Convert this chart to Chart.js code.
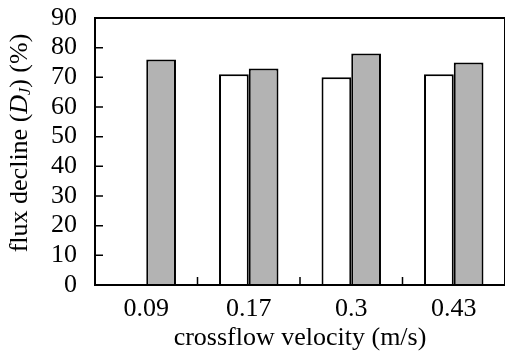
<!DOCTYPE html>
<html>
<head>
<meta charset="utf-8">
<script src="https://cdn.jsdelivr.net/npm/chart.js@4.4.0/dist/chart.umd.min.js"></script>
<style>
  body { margin: 0; background: #fff; overflow: hidden; }
  canvas { display: block; }
</style>
</head>
<body>
<canvas id="fluxChart" width="505" height="354"></canvas>
<script>
// Data
const velocities = ['0.09', '0.17', '0.3', '0.43'];
const whiteBars = [null, 71, 70, 71];
const grayBars = [76, 73, 78, 75];
const yTicks = [0, 10, 20, 30, 40, 50, 60, 70, 80, 90];

const serif = '"Liberation Serif", "Times New Roman", serif';
const fontSize = 26;

// Box around the plot plus inward tick marks
const frame = {
    id: 'frame',
    afterDraw(chart) {
        const ctx = chart.ctx;
        const a = chart.chartArea;
        const x = chart.scales.x;
        const y = chart.scales.y;
        ctx.save();
        ctx.strokeStyle = '#000';
        ctx.lineWidth = 2;
        ctx.strokeRect(a.left, a.top, a.right - a.left, a.bottom - a.top);
        ctx.lineWidth = 1.5;
        ctx.beginPath();
        yTicks.forEach((v) => {
            const py = y.getPixelForValue(v);
            ctx.moveTo(a.left, py);
            ctx.lineTo(a.left + 8, py);
        });
        // category separators on the x axis
        for (let i = 1; i < velocities.length; i++) {
            const px = (x.getPixelForValue(i - 1) + x.getPixelForValue(i)) / 2;
            ctx.moveTo(px, a.bottom);
            ctx.lineTo(px, a.bottom - 8);
        }
        ctx.stroke();

        // y axis title with italic D and subscript J
        ctx.translate(20, 143);
        ctx.rotate(-Math.PI / 2);
        ctx.fillStyle = '#000';
        ctx.textBaseline = 'middle';
        const parts = [
            { t: 'flux decline (', f: fontSize + 'px ' + serif, dy: 0 },
            { t: 'D', f: 'italic ' + fontSize + 'px ' + serif, dy: 0 },
            { t: 'J', f: 'italic 16px ' + serif, dy: 6 },
            { t: ') (%)', f: fontSize + 'px ' + serif, dy: 0 }
        ];
        let total = 0;
        parts.forEach((p) => { ctx.font = p.f; total += ctx.measureText(p.t).width; });
        let cx = -total / 2;
        parts.forEach((p) => {
            ctx.font = p.f;
            ctx.textAlign = 'left';
            ctx.fillText(p.t, cx, p.dy);
            cx += ctx.measureText(p.t).width;
        });
        ctx.restore();
    }
};

new Chart(document.getElementById('fluxChart').getContext('2d'), {
    type: 'bar',
    data: {
        labels: velocities,
        datasets: [
            {
                label: 'white',
                data: whiteBars,
                backgroundColor: '#ffffff',
                borderColor: '#000',
                borderWidth: 2,
                borderSkipped: 'bottom'
            },
            {
                label: 'gray',
                data: grayBars,
                backgroundColor: '#b3b3b3',
                borderColor: '#000',
                borderWidth: 2,
                borderSkipped: 'bottom'
            }
        ]
    },
    options: {
        responsive: false,
        animation: false,
        devicePixelRatio: 1,
        layout: { padding: { top: 18, right: -4, left: 0, bottom: 0 } },
        plugins: {
            legend: { display: false },
            tooltip: { enabled: false }
        },
        datasets: {
            bar: { categoryPercentage: 0.58, barPercentage: 1.0 }
        },
        scales: {
            x: {
                grid: { display: false, drawTicks: false },
                border: { display: false },
                ticks: {
                    color: '#000',
                    padding: 9,
                    font: { family: serif, size: fontSize }
                },
                title: {
                    display: true,
                    text: 'crossflow velocity (m/s)',
                    color: '#000',
                    padding: { top: -4, bottom: 0 },
                    font: { family: serif, size: fontSize }
                },
                afterFit(scale) {
                    scale.height = 69;
                    scale.paddingLeft = 0;
                    scale.paddingRight = 0;
                }
            },
            y: {
                min: 0,
                max: 90,
                afterBuildTicks(scale) { scale.ticks = yTicks.map((v) => ({ value: v })); },
                grid: { display: false, drawTicks: false },
                border: { display: false },
                ticks: {
                    color: '#000',
                    padding: 18,
                    autoSkip: false,
                    font: { family: serif, size: fontSize }
                },
                afterFit(scale) {
                    scale.width = 95;
                    // let the labels overflow the plot edges, the layout padding handles it
                    scale.paddingTop = 0;
                    scale.paddingBottom = 0;
                }
            }
        }
    },
    plugins: [frame]
});
</script>
</body>
</html>
